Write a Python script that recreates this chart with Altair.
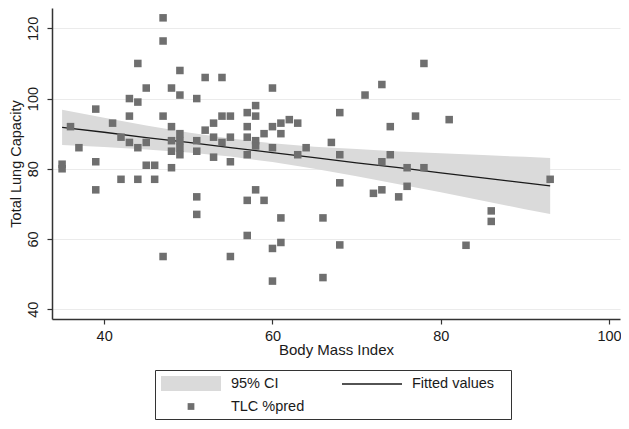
import altair as alt
import pandas as pd

# ---- data ----
bmi = [35, 35, 36, 37, 39, 39, 39, 41, 42, 42,
       43, 43, 43, 44, 44, 44, 44, 45, 45, 45,
       46, 46, 47, 47, 47, 47, 48, 48, 48, 48,
       48, 49, 49, 49, 49, 49, 49, 51, 51, 51,
       51, 51, 52, 52, 53, 53, 53, 54, 54, 54,
       55, 55, 55, 55, 57, 57, 57, 57, 57, 57,
       58, 58, 58, 58, 58, 59, 59, 60, 60, 60,
       60, 60, 61, 61, 61, 61, 62, 63, 63, 64,
       66, 66, 67, 68, 68, 68, 68, 71, 72, 73,
       73, 73, 74, 74, 75, 76, 76, 77, 78, 78,
       81, 83, 86, 86, 93]
tlc = [80, 81.3, 92, 86, 97, 82, 74, 93, 89, 77,
       100, 95, 87.5, 110, 99, 86, 77, 103, 87.5, 81,
       81, 77, 123, 116.4, 95, 55, 103, 92, 88, 85,
       80.3, 108, 101, 90, 88, 86, 84, 100, 88, 85,
       72, 67, 106, 91, 93, 89, 83.3, 106, 95, 87.5,
       95, 89, 82, 55, 96, 92, 89, 84, 71, 61,
       98, 95, 88, 86.5, 74, 90, 71, 103, 92, 86,
       57.3, 48, 93, 90, 66, 59, 94, 93, 84, 86,
       66, 49, 87.5, 96, 84, 76, 58.3, 101, 73, 104,
       82, 74, 92, 84, 72, 80.3, 75, 95, 110, 80.3,
       94, 58.2, 68, 65, 77]

ci_x = [35, 40, 45, 50, 55, 60, 65, 70, 75, 80, 85, 90, 93]
ci_hi = [96.8, 94.5, 92.3, 90.3, 88.6, 87.3, 86.3, 85.6, 84.9, 84.4, 83.9, 83.4, 83.1]
ci_lo = [86.8, 86.2, 85.5, 84.6, 83.5, 81.9, 80.0, 77.9, 75.6, 73.3, 70.9, 68.5, 67.1]
fit_y = [91.8, 90.4, 88.9, 87.5, 86.0, 84.6, 83.2, 81.7, 80.3, 78.8, 77.4, 76.0, 75.1]

# legend entries (listed column by column: left column, then right column)
series_names = ["95% CI", "TLC %pred", "Fitted values"]
x_ticks = [40, 60, 80, 100]
y_ticks = [40, 60, 80, 100, 120]

pts = pd.DataFrame({"bmi": bmi, "tlc": tlc, "series": "TLC %pred"})
band = pd.DataFrame({"bmi": ci_x, "lo": ci_lo, "hi": ci_hi, "fit": fit_y})

FONT = "Liberation Sans"
TXT = "#1a1a1a"

xscale = alt.Scale(domain=[33.8, 101.3], nice=False, zero=False)
yscale = alt.Scale(domain=[37.2, 125.8], nice=False, zero=False)

xaxis = alt.Axis(values=x_ticks, title="Body Mass Index", grid=False,
                 domainColor="#333333", domainWidth=1.5, tickColor="#333333",
                 tickSize=5, tickWidth=1.2, labelFont=FONT, labelFontSize=14.5,
                 labelColor=TXT, labelPadding=5, titleFont=FONT, titleFontSize=15,
                 titleFontWeight="normal", titleColor=TXT, titlePadding=0)
yaxis = alt.Axis(values=y_ticks, title="Total Lung Capacity", grid=True,
                 gridColor="#ebebeb", gridWidth=1.2,
                 domainColor="#333333", domainWidth=1.5, tickColor="#333333",
                 tickSize=5, tickWidth=1.2, labelFont=FONT, labelFontSize=14.5,
                 labelColor=TXT, labelAngle=270, labelAlign="center",
                 labelBaseline="bottom", labelPadding=7,
                 titleFont=FONT, titleFontSize=14.5, titleFontWeight="normal",
                 titleColor=TXT, titlePadding=2)

shape_paths = ["M-4,-1H4V1H-4Z", "M-0.45,-0.45H0.45V0.45H-0.45Z", "M-4,-0.1H4V0.1H-4Z"]
fill_colors = ["#dadada", "#6f6f6f", "#1a1a1a"]

legend = alt.Legend(orient="none", legendX=103, legendY=362, columns=2, title=" ",
                    titleOrient="right", titlePadding=11, titleFontSize=1,
                    strokeColor="#333333", padding=6, symbolSize=225,
                    symbolOffset=22.5, labelOffset=32.4, symbolStrokeWidth=0,
                    symbolOpacity=1, labelFont=FONT, labelFontSize=14.5,
                    labelColor=TXT, columnPadding=37, rowPadding=7)

area = alt.Chart(band).mark_area(color="#dadada", opacity=1).encode(
    x=alt.X("bmi:Q", scale=xscale, axis=xaxis),
    y=alt.Y("lo:Q", scale=yscale, axis=yaxis),
    y2="hi:Q",
)
line = alt.Chart(band).mark_line(color="#1a1a1a", strokeWidth=1.3).encode(
    x=alt.X("bmi:Q", scale=xscale),
    y=alt.Y("fit:Q", scale=yscale),
)
points = alt.Chart(pts).mark_point(filled=True, size=280, opacity=1, strokeWidth=0).encode(
    x=alt.X("bmi:Q", scale=xscale),
    y=alt.Y("tlc:Q", scale=yscale),
    shape=alt.Shape("series:N", scale=alt.Scale(domain=series_names, range=shape_paths), legend=legend),
    fill=alt.Fill("series:N", scale=alt.Scale(domain=series_names, range=fill_colors), legend=legend),
)

chart = alt.layer(area, line, points).properties(
    width=568, height=311,
    autosize=alt.AutoSizeParams(type="none"),
    padding={"left": 44, "top": 0, "right": 1, "bottom": 102},
    background="white",
).configure_view(stroke=None)

chart.save("out.html", embed_options={"renderer": "svg", "actions": False})
